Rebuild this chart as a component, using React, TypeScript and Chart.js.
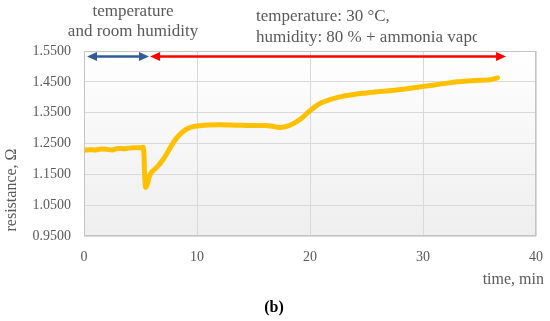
import React, { useEffect, useRef } from "react";
import { Chart, registerables } from "chart.js";

Chart.register(...registerables);

const timeMin = [
  0, 0.5, 1.0, 1.5, 2.0, 2.5, 3.0, 3.5, 4.0, 4.5, 5.0, 5.25, 5.35, 5.45, 5.6, 5.8, 6.0, 6.5, 7.0, 7.5,
  8.0, 8.5, 9.0, 9.5, 10, 11, 12, 13, 14, 15, 16, 16.8, 17.4, 18, 18.6, 19.2, 19.8, 20.4, 21, 22,
  23, 24, 25, 26, 27, 28, 29, 30, 31, 32, 33, 34, 35, 36, 36.6,
];
const resistance = [
  1.228, 1.23, 1.229, 1.232, 1.231, 1.229, 1.234, 1.233, 1.235, 1.236, 1.236, 1.237, 1.16, 1.108, 1.118,
  1.145, 1.158, 1.175, 1.198, 1.228, 1.258, 1.28, 1.295, 1.303, 1.307, 1.31, 1.311, 1.31, 1.309, 1.308,
  1.308, 1.305, 1.302, 1.306, 1.316, 1.33, 1.35, 1.368, 1.382, 1.395, 1.404, 1.41, 1.414, 1.418, 1.421,
  1.425, 1.43, 1.435, 1.44, 1.445, 1.45, 1.453, 1.455, 1.457, 1.463,
];
const xTicks = [0, 10, 20, 30, 40];
const yTicks = [0.95, 1.05, 1.15, 1.25, 1.35, 1.45, 1.55];
const blueArrowX = [0.27, 5.75];
const redArrowX = [5.85, 37.35];
const arrowY = 1.532;

const leftTitle = ["temperature", "and room humidity"];
const rightTitle = ["temperature: 30 °C,", "humidity: 80 % + ammonia vapor"];
const yTitle = "resistance, Ω";
const xTitle = "time, min";
const caption = "(b)";

const SERIF = "'Liberation Serif', 'DejaVu Serif', serif";
const GRAY = "#595959";

function arrowHead(ctx: CanvasRenderingContext2D, x: number, y: number, dir: number, color: string) {
  ctx.fillStyle = color;
  ctx.beginPath();
  ctx.moveTo(x, y);
  ctx.lineTo(x - dir * 10, y - 4.5);
  ctx.lineTo(x - dir * 10, y + 4.5);
  ctx.closePath();
  ctx.fill();
}

const decorPlugin = {
  id: "decor",
  beforeDraw(chart: any) {
    const { ctx, chartArea } = chart;
    const { left, top, right, bottom } = chartArea;
    ctx.save();
    const g = ctx.createLinearGradient(0, top, 0, bottom);
    g.addColorStop(0, "#ffffff");
    g.addColorStop(1, "#eeeeee");
    ctx.fillStyle = g;
    ctx.fillRect(left, top, right - left, bottom - top);
    ctx.restore();
  },
  afterDraw(chart: any) {
    const { ctx, chartArea, scales } = chart;
    const { left, top, right, bottom } = chartArea;
    const xs = scales.x;
    const ys = scales.y;
    ctx.save();
    ctx.strokeStyle = "#c4c4c4";
    ctx.lineWidth = 1;
    ctx.strokeRect(left + 0.5, top + 0.5, right - left - 1, bottom - top - 1);

    // arrows
    const ay = ys.getPixelForValue(arrowY);
    const b0 = xs.getPixelForValue(blueArrowX[0]);
    const b1 = xs.getPixelForValue(blueArrowX[1]);
    const blue = "#2F5C98";
    ctx.strokeStyle = blue;
    ctx.lineWidth = 2.5;
    ctx.beginPath();
    ctx.moveTo(b0 + 8, ay);
    ctx.lineTo(b1 - 8, ay);
    ctx.stroke();
    arrowHead(ctx, b0, ay, -1, blue);
    arrowHead(ctx, b1, ay, 1, blue);

    const r0 = xs.getPixelForValue(redArrowX[0]);
    const r1 = xs.getPixelForValue(redArrowX[1]);
    const red = "#FF0000";
    ctx.strokeStyle = red;
    ctx.beginPath();
    ctx.moveTo(r0 + 8, ay);
    ctx.lineTo(r1 - 8, ay);
    ctx.stroke();
    arrowHead(ctx, r0, ay, -1, red);
    arrowHead(ctx, r1, ay, 1, red);

    // titles
    ctx.fillStyle = GRAY;
    ctx.font = `17px ${SERIF}`;
    ctx.textBaseline = "middle";
    ctx.textAlign = "center";
    ctx.fillText(leftTitle[0], 133, 12);
    ctx.fillText(leftTitle[1], 133, 32);
    ctx.textAlign = "left";
    ctx.fillText(rightTitle[0], 256, 17);
    ctx.save();
    ctx.beginPath();
    ctx.rect(0, 0, 477, 60);
    ctx.clip();
    ctx.fillText(rightTitle[1], 256, 38);
    ctx.restore();

    // axis titles
    ctx.font = `16px ${SERIF}`;
    ctx.textAlign = "right";
    ctx.fillText(xTitle, 544, 280);
    ctx.save();
    ctx.translate(12, 190);
    ctx.rotate(-Math.PI / 2);
    ctx.textAlign = "center";
    ctx.fillText(yTitle, 0, 0);
    ctx.restore();

    // caption
    ctx.fillStyle = "#000000";
    ctx.font = `bold 16px ${SERIF}`;
    ctx.textAlign = "center";
    ctx.fillText(caption, 274, 308);
    ctx.restore();
  },
};

export default function App() {
  const ref = useRef<HTMLCanvasElement>(null);
  useEffect(() => {
    if (!ref.current) return;
    const chart = new Chart(ref.current, {
      type: "line",
      data: {
        datasets: [
          {
            data: timeMin.map((t, i) => ({ x: t, y: resistance[i] })),
            borderColor: "#FFC000",
            borderWidth: 5,
            pointRadius: 0,
            tension: 0.3,
            borderCapStyle: "round",
            borderJoinStyle: "round",
            fill: false,
          },
        ],
      },
      options: {
        responsive: false,
        animation: false,
        layout: { padding: { top: 51, right: 14, left: 0, bottom: 0 } },
        plugins: { legend: { display: false }, tooltip: { enabled: false } },
        scales: {
          x: {
            type: "linear",
            min: 0,
            max: 40,
            afterBuildTicks: (axis: any) => {
              axis.ticks = xTicks.map((v) => ({ value: v }));
            },
            afterFit: (axis: any) => {
              axis.height = 85;
              axis.paddingLeft = 0;
              axis.paddingRight = 0;
            },
            grid: { color: "#d9d9d9", drawTicks: false },
            border: { display: false },
            ticks: {
              padding: 13,
              color: GRAY,
              font: { family: SERIF, size: 14 },
              maxRotation: 0,
            },
          },
          y: {
            type: "linear",
            min: 0.95,
            max: 1.55,
            afterBuildTicks: (axis: any) => {
              axis.ticks = yTicks.map((v) => ({ value: v }));
            },
            afterFit: (axis: any) => {
              axis.width = 84;
              axis.paddingTop = 0;
              axis.paddingBottom = 0;
            },
            grid: { color: "#d9d9d9", drawTicks: false },
            border: { display: false },
            ticks: {
              padding: 13,
              color: GRAY,
              font: { family: SERIF, size: 14 },
              callback: (v: any) => Number(v).toFixed(4),
            },
          },
        },
      },
      plugins: [decorPlugin],
    } as any);
    return () => chart.destroy();
  }, []);
  return (
    <div style={{ position: "fixed", left: 0, top: 0, width: 550, height: 321, background: "#fff" }}>
      <canvas ref={ref} width={550} height={321} style={{ display: "block" }} />
    </div>
  );
}
